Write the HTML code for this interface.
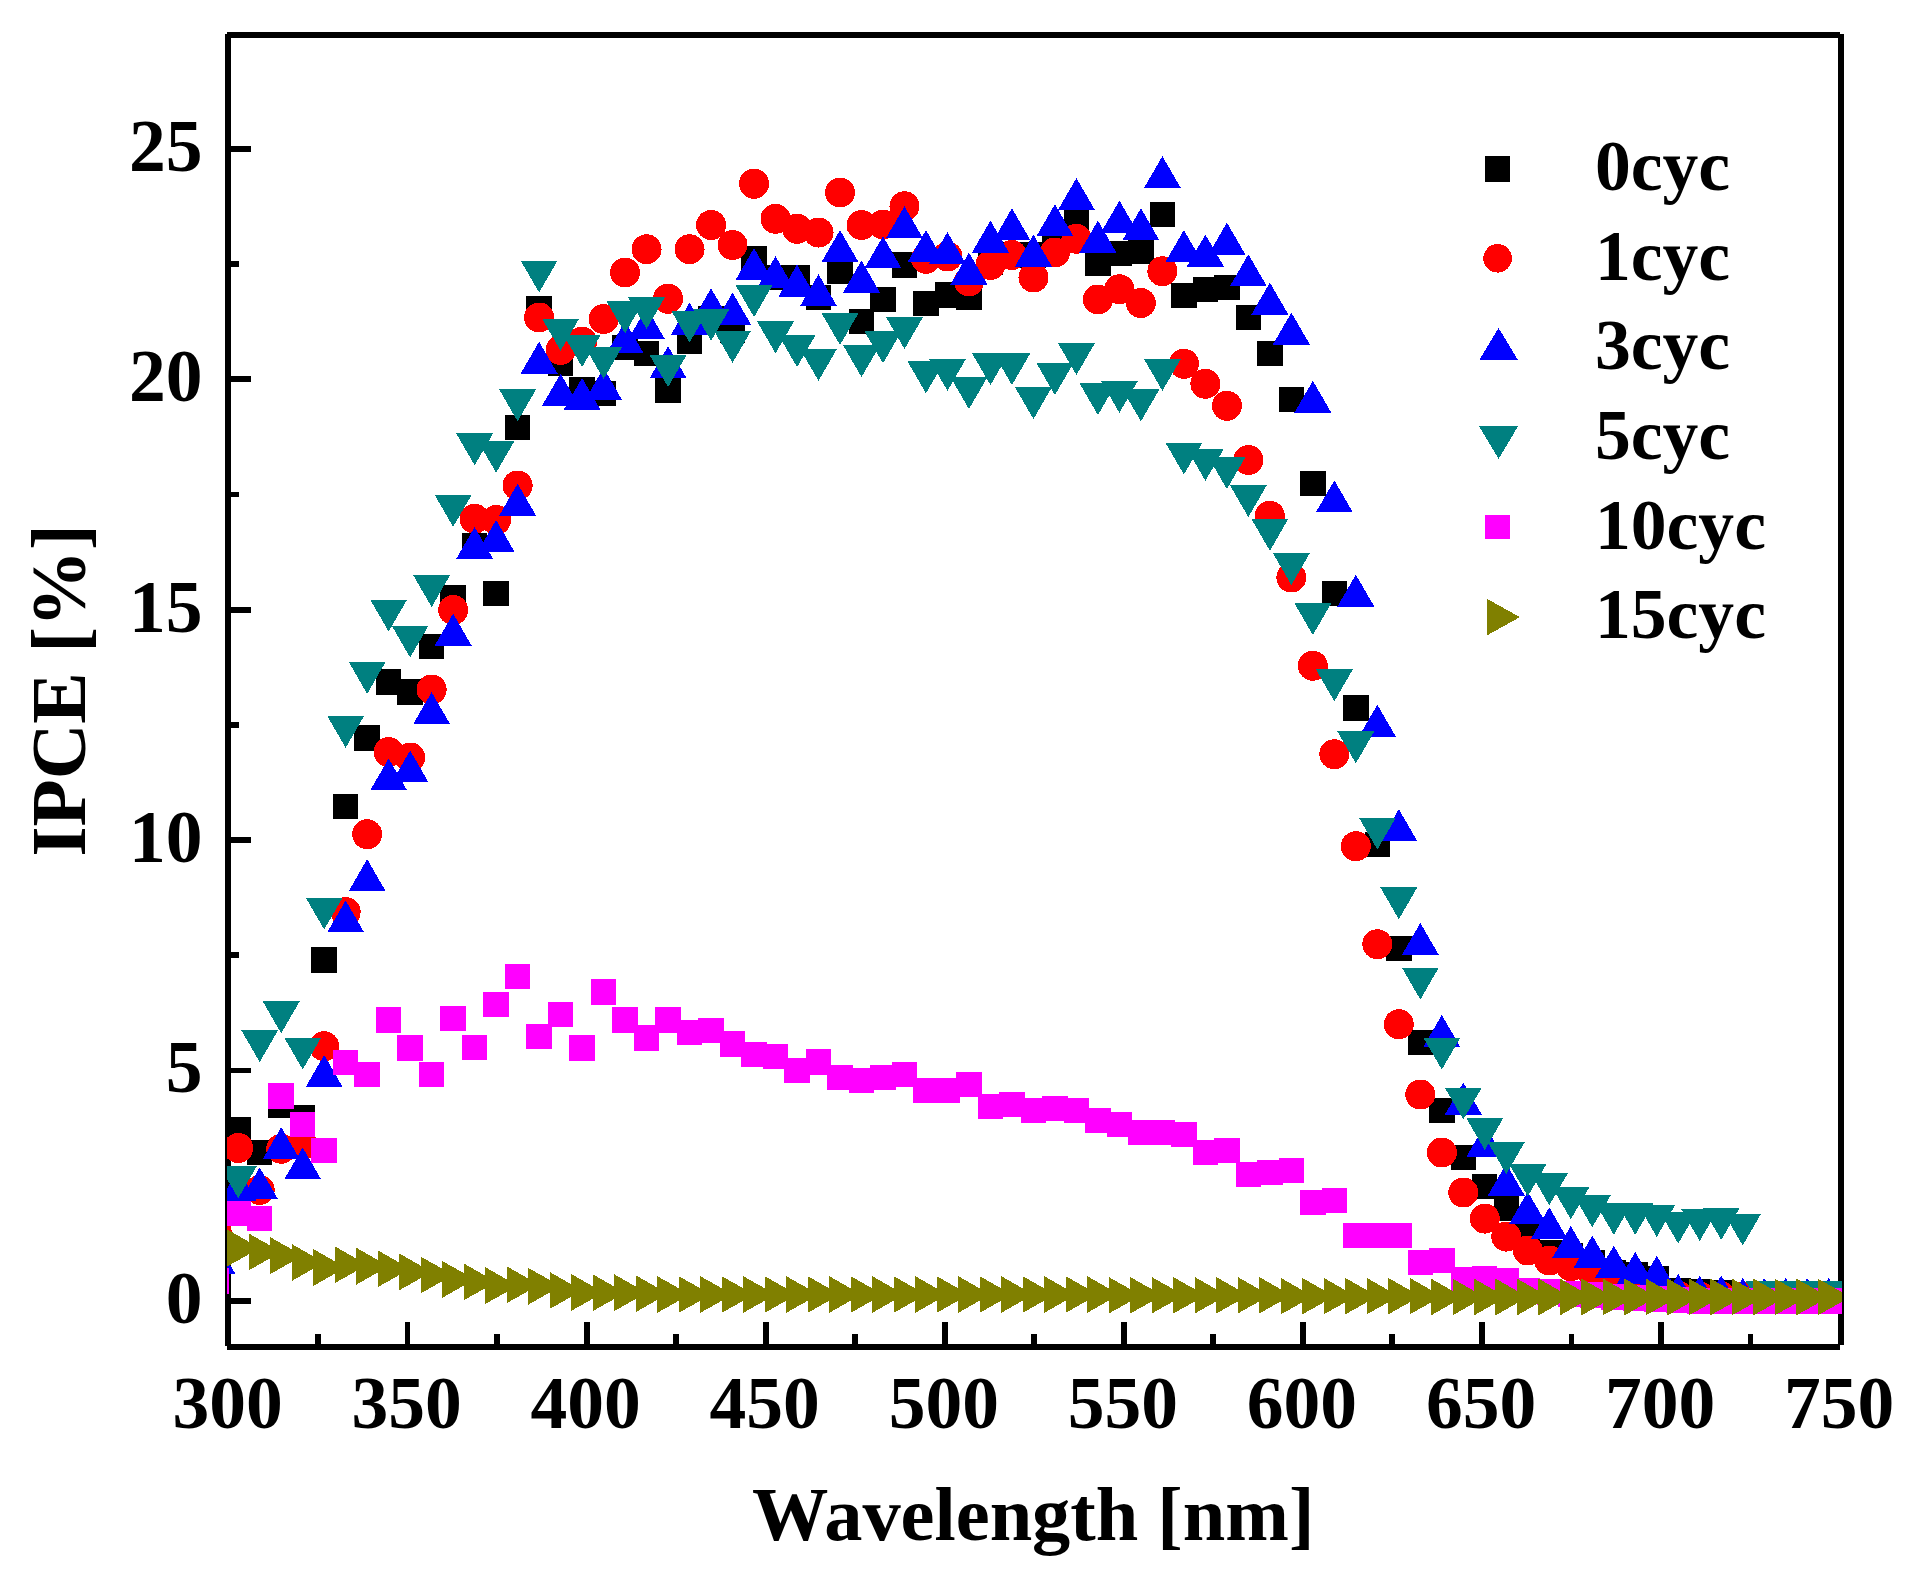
<!DOCTYPE html>
<html lang="en"><head><meta charset="utf-8"><title>IPCE vs Wavelength</title>
<style>
html,body{margin:0;padding:0;background:#fff;}
body{width:1914px;height:1569px;overflow:hidden;}
svg{display:block;}
text{font-family:"Liberation Serif",serif;font-weight:bold;fill:#000;}
.tick{font-size:73.5px;}
.title{font-size:76.4px;}
.leg{font-size:71.6px;}
.ytitle{font-size:77.2px;}
</style></head><body>
<svg width="1914" height="1569" viewBox="0 0 1914 1569">
<rect x="0" y="0" width="1914" height="1569" fill="#fff"/>
<defs><clipPath id="plotclip"><rect x="227" y="34" width="1615" height="1313.5"/></clipPath></defs>
<g fill="#000" shape-rendering="crispEdges">
<rect x="225" y="34.2" width="6" height="1311.4"/>
<rect x="1837.8" y="34.2" width="6.1" height="1311.2"/>
<rect x="227.1" y="32" width="1612.9" height="5.9"/>
<rect x="227" y="1343.6" width="1613" height="6"/>
<rect x="230" y="1297.95" width="21.2" height="5.9"/>
<rect x="230" y="1067.56" width="21.2" height="5.9"/>
<rect x="230" y="837.17" width="21.2" height="5.9"/>
<rect x="230" y="606.78" width="21.2" height="5.9"/>
<rect x="230" y="376.39" width="21.2" height="5.9"/>
<rect x="230" y="146" width="21.2" height="5.9"/>
<rect x="230" y="1182.76" width="9" height="5.9"/>
<rect x="230" y="952.37" width="9" height="5.9"/>
<rect x="230" y="721.98" width="9" height="5.9"/>
<rect x="230" y="491.59" width="9" height="5.9"/>
<rect x="230" y="261.19" width="9" height="5.9"/>
<rect x="404.53" y="1321.8" width="5.9" height="22.8"/>
<rect x="583.6" y="1321.8" width="5.9" height="22.8"/>
<rect x="762.67" y="1321.8" width="5.9" height="22.8"/>
<rect x="941.75" y="1321.8" width="5.9" height="22.8"/>
<rect x="1120.83" y="1321.8" width="5.9" height="22.8"/>
<rect x="1299.9" y="1321.8" width="5.9" height="22.8"/>
<rect x="1478.98" y="1321.8" width="5.9" height="22.8"/>
<rect x="1658.05" y="1321.8" width="5.9" height="22.8"/>
<rect x="314.99" y="1334" width="5.9" height="10.6"/>
<rect x="494.06" y="1334" width="5.9" height="10.6"/>
<rect x="673.14" y="1334" width="5.9" height="10.6"/>
<rect x="852.21" y="1334" width="5.9" height="10.6"/>
<rect x="1031.29" y="1334" width="5.9" height="10.6"/>
<rect x="1210.36" y="1334" width="5.9" height="10.6"/>
<rect x="1389.44" y="1334" width="5.9" height="10.6"/>
<rect x="1568.51" y="1334" width="5.9" height="10.6"/>
<rect x="1747.59" y="1334" width="5.9" height="10.6"/>
</g>
<g clip-path="url(#plotclip)">
<g fill="#000000" shape-rendering="crispEdges">
<rect x="225.5" y="1117.3" width="25.4" height="25.4"/>
<rect x="246.99" y="1139.55" width="25.4" height="25.4"/>
<rect x="268.49" y="1092.3" width="25.4" height="25.4"/>
<rect x="289.98" y="1104.8" width="25.4" height="25.4"/>
<rect x="311.47" y="947.3" width="25.4" height="25.4"/>
<rect x="332.96" y="793.55" width="25.4" height="25.4"/>
<rect x="354.46" y="725.3" width="25.4" height="25.4"/>
<rect x="375.95" y="669.3" width="25.4" height="25.4"/>
<rect x="397.44" y="679.3" width="25.4" height="25.4"/>
<rect x="418.94" y="633.55" width="25.4" height="25.4"/>
<rect x="440.43" y="584.8" width="25.4" height="25.4"/>
<rect x="461.92" y="532.8" width="25.4" height="25.4"/>
<rect x="483.42" y="581.05" width="25.4" height="25.4"/>
<rect x="504.91" y="414.8" width="25.4" height="25.4"/>
<rect x="526.4" y="296" width="25.4" height="25.4"/>
<rect x="547.89" y="351" width="25.4" height="25.4"/>
<rect x="569.39" y="376.8" width="25.4" height="25.4"/>
<rect x="590.88" y="381.05" width="25.4" height="25.4"/>
<rect x="612.37" y="334.8" width="25.4" height="25.4"/>
<rect x="633.87" y="341.05" width="25.4" height="25.4"/>
<rect x="655.36" y="377.3" width="25.4" height="25.4"/>
<rect x="676.85" y="328.55" width="25.4" height="25.4"/>
<rect x="698.35" y="306.1" width="25.4" height="25.4"/>
<rect x="719.84" y="317.8" width="25.4" height="25.4"/>
<rect x="741.33" y="246.05" width="25.4" height="25.4"/>
<rect x="762.82" y="264.8" width="25.4" height="25.4"/>
<rect x="784.32" y="264.8" width="25.4" height="25.4"/>
<rect x="805.81" y="284.8" width="25.4" height="25.4"/>
<rect x="827.3" y="258.55" width="25.4" height="25.4"/>
<rect x="848.8" y="308.55" width="25.4" height="25.4"/>
<rect x="870.29" y="286.8" width="25.4" height="25.4"/>
<rect x="891.78" y="252.3" width="25.4" height="25.4"/>
<rect x="913.28" y="291.05" width="25.4" height="25.4"/>
<rect x="934.77" y="282.3" width="25.4" height="25.4"/>
<rect x="956.26" y="284.8" width="25.4" height="25.4"/>
<rect x="977.75" y="249.8" width="25.4" height="25.4"/>
<rect x="999.25" y="242.3" width="25.4" height="25.4"/>
<rect x="1020.74" y="242.3" width="25.4" height="25.4"/>
<rect x="1042.23" y="236.05" width="25.4" height="25.4"/>
<rect x="1063.73" y="209.8" width="25.4" height="25.4"/>
<rect x="1085.22" y="251.05" width="25.4" height="25.4"/>
<rect x="1106.71" y="241.05" width="25.4" height="25.4"/>
<rect x="1128.21" y="238.55" width="25.4" height="25.4"/>
<rect x="1149.7" y="201.6" width="25.4" height="25.4"/>
<rect x="1171.19" y="282.8" width="25.4" height="25.4"/>
<rect x="1192.68" y="277.05" width="25.4" height="25.4"/>
<rect x="1214.18" y="274.8" width="25.4" height="25.4"/>
<rect x="1235.67" y="304.8" width="25.4" height="25.4"/>
<rect x="1257.16" y="340.8" width="25.4" height="25.4"/>
<rect x="1278.66" y="386.8" width="25.4" height="25.4"/>
<rect x="1300.15" y="471.05" width="25.4" height="25.4"/>
<rect x="1321.64" y="581.05" width="25.4" height="25.4"/>
<rect x="1343.14" y="695.4" width="25.4" height="25.4"/>
<rect x="1364.63" y="831.8" width="25.4" height="25.4"/>
<rect x="1386.12" y="935.8" width="25.4" height="25.4"/>
<rect x="1407.62" y="1029.8" width="25.4" height="25.4"/>
<rect x="1429.11" y="1097.8" width="25.4" height="25.4"/>
<rect x="1450.6" y="1144.8" width="25.4" height="25.4"/>
<rect x="1472.09" y="1173.8" width="25.4" height="25.4"/>
<rect x="1493.59" y="1195.9" width="25.4" height="25.4"/>
<rect x="1515.08" y="1223.5" width="25.4" height="25.4"/>
<rect x="1536.57" y="1239.8" width="25.4" height="25.4"/>
<rect x="1558.07" y="1243.3" width="25.4" height="25.4"/>
<rect x="1579.56" y="1250.1" width="25.4" height="25.4"/>
<rect x="1601.05" y="1260.2" width="25.4" height="25.4"/>
<rect x="1622.54" y="1261.8" width="25.4" height="25.4"/>
<rect x="1644.04" y="1265.5" width="25.4" height="25.4"/>
<rect x="1665.53" y="1277.7" width="25.4" height="25.4"/>
<rect x="1687.02" y="1279.3" width="25.4" height="25.4"/>
<rect x="1708.52" y="1280.3" width="25.4" height="25.4"/>
<rect x="1730.01" y="1282.3" width="25.4" height="25.4"/>
<rect x="1751.5" y="1282.3" width="25.4" height="25.4"/>
<rect x="1773" y="1282.3" width="25.4" height="25.4"/>
<rect x="1794.49" y="1282.3" width="25.4" height="25.4"/>
<rect x="1815.98" y="1282.3" width="25.4" height="25.4"/>
<rect x="1837.47" y="1282.3" width="25.4" height="25.4"/>
</g>
<g fill="#ff0000" shape-rendering="crispEdges">
<circle cx="216.71" cy="1232" r="15"/>
<circle cx="238.2" cy="1148" r="15"/>
<circle cx="259.69" cy="1190" r="15"/>
<circle cx="281.19" cy="1148.75" r="15"/>
<circle cx="302.68" cy="1145" r="15"/>
<circle cx="324.17" cy="1046.25" r="15"/>
<circle cx="345.66" cy="912" r="15"/>
<circle cx="367.16" cy="834.25" r="15"/>
<circle cx="388.65" cy="752" r="15"/>
<circle cx="410.14" cy="757.5" r="15"/>
<circle cx="431.64" cy="689.5" r="15"/>
<circle cx="453.13" cy="610" r="15"/>
<circle cx="474.62" cy="518.75" r="15"/>
<circle cx="496.12" cy="520" r="15"/>
<circle cx="517.61" cy="485.5" r="15"/>
<circle cx="539.1" cy="317.5" r="15"/>
<circle cx="560.6" cy="350" r="15"/>
<circle cx="582.09" cy="341.75" r="15"/>
<circle cx="603.58" cy="319" r="15"/>
<circle cx="625.07" cy="272.5" r="15"/>
<circle cx="646.57" cy="249.25" r="15"/>
<circle cx="668.06" cy="298.75" r="15"/>
<circle cx="689.55" cy="249.25" r="15"/>
<circle cx="711.05" cy="225" r="15"/>
<circle cx="732.54" cy="245" r="15"/>
<circle cx="754.03" cy="183.75" r="15"/>
<circle cx="775.52" cy="218.75" r="15"/>
<circle cx="797.02" cy="228.75" r="15"/>
<circle cx="818.51" cy="232.5" r="15"/>
<circle cx="840" cy="192.5" r="15"/>
<circle cx="861.5" cy="225" r="15"/>
<circle cx="882.99" cy="224.5" r="15"/>
<circle cx="904.48" cy="206.25" r="15"/>
<circle cx="925.98" cy="258.75" r="15"/>
<circle cx="947.47" cy="256.5" r="15"/>
<circle cx="968.96" cy="281.25" r="15"/>
<circle cx="990.45" cy="265" r="15"/>
<circle cx="1011.95" cy="255" r="15"/>
<circle cx="1033.44" cy="277.5" r="15"/>
<circle cx="1054.93" cy="252.5" r="15"/>
<circle cx="1076.43" cy="238.75" r="15"/>
<circle cx="1097.92" cy="299.5" r="15"/>
<circle cx="1119.41" cy="289.25" r="15"/>
<circle cx="1140.91" cy="303" r="15"/>
<circle cx="1162.4" cy="271.25" r="15"/>
<circle cx="1183.89" cy="363.75" r="15"/>
<circle cx="1205.38" cy="383.75" r="15"/>
<circle cx="1226.88" cy="405.75" r="15"/>
<circle cx="1248.37" cy="460" r="15"/>
<circle cx="1269.86" cy="515.75" r="15"/>
<circle cx="1291.36" cy="577.5" r="15"/>
<circle cx="1312.85" cy="665.75" r="15"/>
<circle cx="1334.34" cy="754.25" r="15"/>
<circle cx="1355.84" cy="846.25" r="15"/>
<circle cx="1377.33" cy="944.25" r="15"/>
<circle cx="1398.82" cy="1024.25" r="15"/>
<circle cx="1420.32" cy="1094.5" r="15"/>
<circle cx="1441.81" cy="1152.5" r="15"/>
<circle cx="1463.3" cy="1192.5" r="15"/>
<circle cx="1484.79" cy="1218.6" r="15"/>
<circle cx="1506.29" cy="1236.6" r="15"/>
<circle cx="1527.78" cy="1250.5" r="15"/>
<circle cx="1549.27" cy="1260.5" r="15"/>
<circle cx="1570.77" cy="1266.2" r="15"/>
<circle cx="1592.26" cy="1272" r="15"/>
<circle cx="1613.75" cy="1278" r="15"/>
<circle cx="1635.24" cy="1284" r="15"/>
<circle cx="1656.74" cy="1288" r="15"/>
<circle cx="1678.23" cy="1296" r="15"/>
<circle cx="1699.72" cy="1296.5" r="15"/>
<circle cx="1721.22" cy="1296.5" r="15"/>
<circle cx="1742.71" cy="1296.5" r="15"/>
<circle cx="1764.2" cy="1296.5" r="15"/>
<circle cx="1785.7" cy="1296.5" r="15"/>
<circle cx="1807.19" cy="1296.5" r="15"/>
<circle cx="1828.68" cy="1296.5" r="15"/>
<circle cx="1850.17" cy="1296.5" r="15"/>
</g>
<g fill="#0000ff" shape-rendering="crispEdges">
<path d="M198.21 1273.67L235.21 1273.67L216.71 1241.67Z"/>
<path d="M219.7 1201.17L256.7 1201.17L238.2 1169.17Z"/>
<path d="M241.19 1199.47L278.19 1199.47L259.69 1167.47Z"/>
<path d="M262.69 1159.17L299.69 1159.17L281.19 1127.17Z"/>
<path d="M284.18 1179.47L321.18 1179.47L302.68 1147.47Z"/>
<path d="M305.67 1086.97L342.67 1086.97L324.17 1054.97Z"/>
<path d="M327.16 932.47L364.16 932.47L345.66 900.47Z"/>
<path d="M348.66 891.17L385.66 891.17L367.16 859.17Z"/>
<path d="M370.15 790.47L407.15 790.47L388.65 758.47Z"/>
<path d="M391.64 782.47L428.64 782.47L410.14 750.47Z"/>
<path d="M413.14 724.17L450.14 724.17L431.64 692.17Z"/>
<path d="M434.63 645.67L471.63 645.67L453.13 613.67Z"/>
<path d="M456.12 558.97L493.12 558.97L474.62 526.97Z"/>
<path d="M477.62 551.97L514.62 551.97L496.12 519.97Z"/>
<path d="M499.11 515.67L536.11 515.67L517.61 483.67Z"/>
<path d="M520.6 373.67L557.6 373.67L539.1 341.67Z"/>
<path d="M542.1 405.67L579.1 405.67L560.6 373.67Z"/>
<path d="M563.59 409.97L600.59 409.97L582.09 377.97Z"/>
<path d="M585.08 399.97L622.08 399.97L603.58 367.97Z"/>
<path d="M606.57 353.17L643.57 353.17L625.07 321.17Z"/>
<path d="M628.07 339.47L665.07 339.47L646.57 307.47Z"/>
<path d="M649.56 378.17L686.56 378.17L668.06 346.17Z"/>
<path d="M671.05 334.67L708.05 334.67L689.55 302.67Z"/>
<path d="M692.55 320.27L729.55 320.27L711.05 288.27Z"/>
<path d="M714.04 324.57L751.04 324.57L732.54 292.57Z"/>
<path d="M735.53 280.07L772.53 280.07L754.03 248.07Z"/>
<path d="M757.02 288.27L794.02 288.27L775.52 256.27Z"/>
<path d="M778.52 296.57L815.52 296.57L797.02 264.57Z"/>
<path d="M800.01 306.27L837.01 306.27L818.51 274.27Z"/>
<path d="M821.5 262.07L858.5 262.07L840 230.07Z"/>
<path d="M843 292.57L880 292.57L861.5 260.57Z"/>
<path d="M864.49 268.27L901.49 268.27L882.99 236.27Z"/>
<path d="M885.98 238.27L922.98 238.27L904.48 206.27Z"/>
<path d="M907.48 262.07L944.48 262.07L925.98 230.07Z"/>
<path d="M928.97 264.07L965.97 264.07L947.47 232.07Z"/>
<path d="M950.46 284.57L987.46 284.57L968.96 252.57Z"/>
<path d="M971.95 252.57L1008.95 252.57L990.45 220.57Z"/>
<path d="M993.45 240.27L1030.45 240.27L1011.95 208.27Z"/>
<path d="M1014.94 266.57L1051.94 266.57L1033.44 234.57Z"/>
<path d="M1036.43 236.27L1073.43 236.27L1054.93 204.27Z"/>
<path d="M1057.93 210.07L1094.93 210.07L1076.43 178.07Z"/>
<path d="M1079.42 252.57L1116.42 252.57L1097.92 220.57Z"/>
<path d="M1100.91 232.57L1137.91 232.57L1119.41 200.57Z"/>
<path d="M1122.41 240.27L1159.41 240.27L1140.91 208.27Z"/>
<path d="M1143.9 188.17L1180.9 188.17L1162.4 156.17Z"/>
<path d="M1165.39 262.07L1202.39 262.07L1183.89 230.07Z"/>
<path d="M1186.88 266.57L1223.88 266.57L1205.38 234.57Z"/>
<path d="M1208.38 254.57L1245.38 254.57L1226.88 222.57Z"/>
<path d="M1229.87 286.27L1266.87 286.27L1248.37 254.27Z"/>
<path d="M1251.36 314.57L1288.36 314.57L1269.86 282.57Z"/>
<path d="M1272.86 344.57L1309.86 344.57L1291.36 312.57Z"/>
<path d="M1294.35 412.77L1331.35 412.77L1312.85 380.77Z"/>
<path d="M1315.84 512.37L1352.84 512.37L1334.34 480.37Z"/>
<path d="M1337.34 606.67L1374.34 606.67L1355.84 574.67Z"/>
<path d="M1358.83 736.67L1395.83 736.67L1377.33 704.67Z"/>
<path d="M1380.32 841.17L1417.32 841.17L1398.82 809.17Z"/>
<path d="M1401.82 954.92L1438.82 954.92L1420.32 922.92Z"/>
<path d="M1423.31 1046.92L1460.31 1046.92L1441.81 1014.92Z"/>
<path d="M1444.8 1114.67L1481.8 1114.67L1463.3 1082.67Z"/>
<path d="M1466.29 1156.92L1503.29 1156.92L1484.79 1124.92Z"/>
<path d="M1487.79 1195.67L1524.79 1195.67L1506.29 1163.67Z"/>
<path d="M1509.28 1223.67L1546.28 1223.67L1527.78 1191.67Z"/>
<path d="M1530.77 1239.37L1567.77 1239.37L1549.27 1207.37Z"/>
<path d="M1552.27 1257.87L1589.27 1257.87L1570.77 1225.87Z"/>
<path d="M1573.76 1267.57L1610.76 1267.57L1592.26 1235.57Z"/>
<path d="M1595.25 1277.67L1632.25 1277.67L1613.75 1245.67Z"/>
<path d="M1616.74 1283.97L1653.74 1283.97L1635.24 1251.97Z"/>
<path d="M1638.24 1287.67L1675.24 1287.67L1656.74 1255.67Z"/>
<path d="M1659.73 1305.87L1696.73 1305.87L1678.23 1273.87Z"/>
<path d="M1681.22 1307.47L1718.22 1307.47L1699.72 1275.47Z"/>
<path d="M1702.72 1307.47L1739.72 1307.47L1721.22 1275.47Z"/>
<path d="M1724.21 1309.97L1761.21 1309.97L1742.71 1277.97Z"/>
<path d="M1745.7 1309.97L1782.7 1309.97L1764.2 1277.97Z"/>
<path d="M1767.2 1309.97L1804.2 1309.97L1785.7 1277.97Z"/>
<path d="M1788.69 1309.97L1825.69 1309.97L1807.19 1277.97Z"/>
<path d="M1810.18 1309.97L1847.18 1309.97L1828.68 1277.97Z"/>
<path d="M1831.67 1309.97L1868.67 1309.97L1850.17 1277.97Z"/>
</g>
<g fill="#008080" shape-rendering="crispEdges">
<path d="M219.7 1166.33L256.7 1166.33L238.2 1198.33Z"/>
<path d="M241.19 1030.03L278.19 1030.03L259.69 1062.03Z"/>
<path d="M262.69 1001.33L299.69 1001.33L281.19 1033.33Z"/>
<path d="M284.18 1037.53L321.18 1037.53L302.68 1069.53Z"/>
<path d="M305.67 897.53L342.67 897.53L324.17 929.53Z"/>
<path d="M327.16 715.83L364.16 715.83L345.66 747.83Z"/>
<path d="M348.66 661.83L385.66 661.83L367.16 693.83Z"/>
<path d="M370.15 599.53L407.15 599.53L388.65 631.53Z"/>
<path d="M391.64 625.53L428.64 625.53L410.14 657.53Z"/>
<path d="M413.14 575.03L450.14 575.03L431.64 607.03Z"/>
<path d="M434.63 494.83L471.63 494.83L453.13 526.83Z"/>
<path d="M456.12 433.33L493.12 433.33L474.62 465.33Z"/>
<path d="M477.62 440.73L514.62 440.73L496.12 472.73Z"/>
<path d="M499.11 389.33L536.11 389.33L517.61 421.33Z"/>
<path d="M520.6 260.53L557.6 260.53L539.1 292.53Z"/>
<path d="M542.1 318.73L579.1 318.73L560.6 350.73Z"/>
<path d="M563.59 335.03L600.59 335.03L582.09 367.03Z"/>
<path d="M585.08 347.03L622.08 347.03L603.58 379.03Z"/>
<path d="M606.57 301.33L643.57 301.33L625.07 333.33Z"/>
<path d="M628.07 297.03L665.07 297.03L646.57 329.03Z"/>
<path d="M649.56 355.03L686.56 355.03L668.06 387.03Z"/>
<path d="M671.05 310.53L708.05 310.53L689.55 342.53Z"/>
<path d="M692.55 308.83L729.55 308.83L711.05 340.83Z"/>
<path d="M714.04 330.83L751.04 330.83L732.54 362.83Z"/>
<path d="M735.53 285.08L772.53 285.08L754.03 317.08Z"/>
<path d="M757.02 321.33L794.02 321.33L775.52 353.33Z"/>
<path d="M778.52 335.08L815.52 335.08L797.02 367.08Z"/>
<path d="M800.01 348.83L837.01 348.83L818.51 380.83Z"/>
<path d="M821.5 313.08L858.5 313.08L840 345.08Z"/>
<path d="M843 345.08L880 345.08L861.5 377.08Z"/>
<path d="M864.49 331.33L901.49 331.33L882.99 363.33Z"/>
<path d="M885.98 317.08L922.98 317.08L904.48 349.08Z"/>
<path d="M907.48 361.33L944.48 361.33L925.98 393.33Z"/>
<path d="M928.97 358.83L965.97 358.83L947.47 390.83Z"/>
<path d="M950.46 377.08L987.46 377.08L968.96 409.08Z"/>
<path d="M971.95 353.08L1008.95 353.08L990.45 385.08Z"/>
<path d="M993.45 353.08L1030.45 353.08L1011.95 385.08Z"/>
<path d="M1014.94 387.08L1051.94 387.08L1033.44 419.08Z"/>
<path d="M1036.43 363.08L1073.43 363.08L1054.93 395.08Z"/>
<path d="M1057.93 343.08L1094.93 343.08L1076.43 375.08Z"/>
<path d="M1079.42 383.08L1116.42 383.08L1097.92 415.08Z"/>
<path d="M1100.91 380.83L1137.91 380.83L1119.41 412.83Z"/>
<path d="M1122.41 389.33L1159.41 389.33L1140.91 421.33Z"/>
<path d="M1143.9 358.83L1180.9 358.83L1162.4 390.83Z"/>
<path d="M1165.39 442.58L1202.39 442.58L1183.89 474.58Z"/>
<path d="M1186.88 448.83L1223.88 448.83L1205.38 480.83Z"/>
<path d="M1208.38 457.08L1245.38 457.08L1226.88 489.08Z"/>
<path d="M1229.87 485.08L1266.87 485.08L1248.37 517.08Z"/>
<path d="M1251.36 518.83L1288.36 518.83L1269.86 550.83Z"/>
<path d="M1272.86 553.08L1309.86 553.08L1291.36 585.08Z"/>
<path d="M1294.35 603.08L1331.35 603.08L1312.85 635.08Z"/>
<path d="M1315.84 669.33L1352.84 669.33L1334.34 701.33Z"/>
<path d="M1337.34 731.33L1374.34 731.33L1355.84 763.33Z"/>
<path d="M1358.83 817.58L1395.83 817.58L1377.33 849.58Z"/>
<path d="M1380.32 887.33L1417.32 887.33L1398.82 919.33Z"/>
<path d="M1401.82 967.58L1438.82 967.58L1420.32 999.58Z"/>
<path d="M1423.31 1037.58L1460.31 1037.58L1441.81 1069.58Z"/>
<path d="M1444.8 1087.58L1481.8 1087.58L1463.3 1119.58Z"/>
<path d="M1466.29 1118.08L1503.29 1118.08L1484.79 1150.08Z"/>
<path d="M1487.79 1142.08L1524.79 1142.08L1506.29 1174.08Z"/>
<path d="M1509.28 1164.33L1546.28 1164.33L1527.78 1196.33Z"/>
<path d="M1530.77 1173.33L1567.77 1173.33L1549.27 1205.33Z"/>
<path d="M1552.27 1187.33L1589.27 1187.33L1570.77 1219.33Z"/>
<path d="M1573.76 1195.33L1610.76 1195.33L1592.26 1227.33Z"/>
<path d="M1595.25 1202.83L1632.25 1202.83L1613.75 1234.83Z"/>
<path d="M1616.74 1202.83L1653.74 1202.83L1635.24 1234.83Z"/>
<path d="M1638.24 1204.93L1675.24 1204.93L1656.74 1236.93Z"/>
<path d="M1659.73 1211.63L1696.73 1211.63L1678.23 1243.63Z"/>
<path d="M1681.22 1209.03L1718.22 1209.03L1699.72 1241.03Z"/>
<path d="M1702.72 1207.93L1739.72 1207.93L1721.22 1239.93Z"/>
<path d="M1724.21 1213.53L1761.21 1213.53L1742.71 1245.53Z"/>
<path d="M1745.7 1281.33L1782.7 1281.33L1764.2 1313.33Z"/>
<path d="M1767.2 1281.33L1804.2 1281.33L1785.7 1313.33Z"/>
<path d="M1788.69 1281.33L1825.69 1281.33L1807.19 1313.33Z"/>
<path d="M1810.18 1281.33L1847.18 1281.33L1828.68 1313.33Z"/>
<path d="M1831.67 1281.33L1868.67 1281.33L1850.17 1313.33Z"/>
</g>
<g fill="#ff00ff" shape-rendering="crispEdges">
<rect x="204.01" y="1268.3" width="25.4" height="25.4"/>
<rect x="225.5" y="1200.8" width="25.4" height="25.4"/>
<rect x="246.99" y="1205.8" width="25.4" height="25.4"/>
<rect x="268.49" y="1083.3" width="25.4" height="25.4"/>
<rect x="289.98" y="1111.8" width="25.4" height="25.4"/>
<rect x="311.47" y="1137.55" width="25.4" height="25.4"/>
<rect x="332.96" y="1049.55" width="25.4" height="25.4"/>
<rect x="354.46" y="1061.55" width="25.4" height="25.4"/>
<rect x="375.95" y="1007.3" width="25.4" height="25.4"/>
<rect x="397.44" y="1035.3" width="25.4" height="25.4"/>
<rect x="418.94" y="1061.55" width="25.4" height="25.4"/>
<rect x="440.43" y="1005.55" width="25.4" height="25.4"/>
<rect x="461.92" y="1034.55" width="25.4" height="25.4"/>
<rect x="483.42" y="991.55" width="25.4" height="25.4"/>
<rect x="504.91" y="963.55" width="25.4" height="25.4"/>
<rect x="526.4" y="1023.55" width="25.4" height="25.4"/>
<rect x="547.89" y="1001.55" width="25.4" height="25.4"/>
<rect x="569.39" y="1035.3" width="25.4" height="25.4"/>
<rect x="590.88" y="979.3" width="25.4" height="25.4"/>
<rect x="612.37" y="1007.3" width="25.4" height="25.4"/>
<rect x="633.87" y="1025.3" width="25.4" height="25.4"/>
<rect x="655.36" y="1007.3" width="25.4" height="25.4"/>
<rect x="676.85" y="1019.7" width="25.4" height="25.4"/>
<rect x="698.35" y="1017.55" width="25.4" height="25.4"/>
<rect x="719.84" y="1031.3" width="25.4" height="25.4"/>
<rect x="741.33" y="1041.55" width="25.4" height="25.4"/>
<rect x="762.82" y="1043.55" width="25.4" height="25.4"/>
<rect x="784.32" y="1057.8" width="25.4" height="25.4"/>
<rect x="805.81" y="1049.3" width="25.4" height="25.4"/>
<rect x="827.3" y="1064.55" width="25.4" height="25.4"/>
<rect x="848.8" y="1067.55" width="25.4" height="25.4"/>
<rect x="870.29" y="1064.55" width="25.4" height="25.4"/>
<rect x="891.78" y="1061.8" width="25.4" height="25.4"/>
<rect x="913.28" y="1077.55" width="25.4" height="25.4"/>
<rect x="934.77" y="1077.55" width="25.4" height="25.4"/>
<rect x="956.26" y="1071.8" width="25.4" height="25.4"/>
<rect x="977.75" y="1093.8" width="25.4" height="25.4"/>
<rect x="999.25" y="1091.8" width="25.4" height="25.4"/>
<rect x="1020.74" y="1097.55" width="25.4" height="25.4"/>
<rect x="1042.23" y="1095.55" width="25.4" height="25.4"/>
<rect x="1063.73" y="1097.55" width="25.4" height="25.4"/>
<rect x="1085.22" y="1107.55" width="25.4" height="25.4"/>
<rect x="1106.71" y="1111.8" width="25.4" height="25.4"/>
<rect x="1128.21" y="1119.8" width="25.4" height="25.4"/>
<rect x="1149.7" y="1119.6" width="25.4" height="25.4"/>
<rect x="1171.19" y="1121.8" width="25.4" height="25.4"/>
<rect x="1192.68" y="1140.05" width="25.4" height="25.4"/>
<rect x="1214.18" y="1137.55" width="25.4" height="25.4"/>
<rect x="1235.67" y="1161.8" width="25.4" height="25.4"/>
<rect x="1257.16" y="1160.05" width="25.4" height="25.4"/>
<rect x="1278.66" y="1157.55" width="25.4" height="25.4"/>
<rect x="1300.15" y="1190.05" width="25.4" height="25.4"/>
<rect x="1321.64" y="1187.8" width="25.4" height="25.4"/>
<rect x="1343.14" y="1222.9" width="25.4" height="25.4"/>
<rect x="1364.63" y="1222.9" width="25.4" height="25.4"/>
<rect x="1386.12" y="1222.9" width="25.4" height="25.4"/>
<rect x="1407.62" y="1249.9" width="25.4" height="25.4"/>
<rect x="1429.11" y="1247.5" width="25.4" height="25.4"/>
<rect x="1450.6" y="1267.3" width="25.4" height="25.4"/>
<rect x="1472.09" y="1265.5" width="25.4" height="25.4"/>
<rect x="1493.59" y="1267.7" width="25.4" height="25.4"/>
<rect x="1515.08" y="1277.7" width="25.4" height="25.4"/>
<rect x="1536.57" y="1279.3" width="25.4" height="25.4"/>
<rect x="1558.07" y="1281.3" width="25.4" height="25.4"/>
<rect x="1579.56" y="1282.3" width="25.4" height="25.4"/>
<rect x="1601.05" y="1284.3" width="25.4" height="25.4"/>
<rect x="1622.54" y="1285.3" width="25.4" height="25.4"/>
<rect x="1644.04" y="1286.3" width="25.4" height="25.4"/>
<rect x="1665.53" y="1287.3" width="25.4" height="25.4"/>
<rect x="1687.02" y="1288.3" width="25.4" height="25.4"/>
<rect x="1708.52" y="1288.3" width="25.4" height="25.4"/>
<rect x="1730.01" y="1288.3" width="25.4" height="25.4"/>
<rect x="1751.5" y="1288.3" width="25.4" height="25.4"/>
<rect x="1773" y="1288.3" width="25.4" height="25.4"/>
<rect x="1794.49" y="1288.3" width="25.4" height="25.4"/>
<rect x="1815.98" y="1288.3" width="25.4" height="25.4"/>
<rect x="1837.47" y="1288.3" width="25.4" height="25.4"/>
</g>
<g fill="#808000" shape-rendering="crispEdges">
<path d="M205.91 1227.6L205.91 1264.4L238.31 1246Z"/>
<path d="M227.4 1229.6L227.4 1266.4L259.8 1248Z"/>
<path d="M248.89 1233.5L248.89 1270.3L281.29 1251.9Z"/>
<path d="M270.39 1237.2L270.39 1274L302.79 1255.6Z"/>
<path d="M291.88 1244.1L291.88 1280.9L324.28 1262.5Z"/>
<path d="M313.37 1249.1L313.37 1285.9L345.77 1267.5Z"/>
<path d="M334.86 1246.35L334.86 1283.15L367.26 1264.75Z"/>
<path d="M356.36 1247.85L356.36 1284.65L388.76 1266.25Z"/>
<path d="M377.85 1250.35L377.85 1287.15L410.25 1268.75Z"/>
<path d="M399.34 1253.5L399.34 1290.3L431.74 1271.9Z"/>
<path d="M420.84 1256.6L420.84 1293.4L453.24 1275Z"/>
<path d="M442.33 1261L442.33 1297.8L474.73 1279.4Z"/>
<path d="M463.82 1263.5L463.82 1300.3L496.22 1281.9Z"/>
<path d="M485.32 1267.2L485.32 1304L517.72 1285.6Z"/>
<path d="M506.81 1266.35L506.81 1303.15L539.21 1284.75Z"/>
<path d="M528.3 1267.85L528.3 1304.65L560.7 1286.25Z"/>
<path d="M549.8 1272.1L549.8 1308.9L582.2 1290.5Z"/>
<path d="M571.29 1274.1L571.29 1310.9L603.69 1292.5Z"/>
<path d="M592.78 1274.35L592.78 1311.15L625.18 1292.75Z"/>
<path d="M614.27 1274.35L614.27 1311.15L646.67 1292.75Z"/>
<path d="M635.77 1275.35L635.77 1312.15L668.17 1293.75Z"/>
<path d="M657.26 1276.1L657.26 1312.9L689.66 1294.5Z"/>
<path d="M678.75 1276.1L678.75 1312.9L711.15 1294.5Z"/>
<path d="M700.25 1276.1L700.25 1312.9L732.65 1294.5Z"/>
<path d="M721.74 1276.1L721.74 1312.9L754.14 1294.5Z"/>
<path d="M743.23 1276.1L743.23 1312.9L775.63 1294.5Z"/>
<path d="M764.72 1276.1L764.72 1312.9L797.12 1294.5Z"/>
<path d="M786.22 1276.1L786.22 1312.9L818.62 1294.5Z"/>
<path d="M807.71 1276.1L807.71 1312.9L840.11 1294.5Z"/>
<path d="M829.2 1276.1L829.2 1312.9L861.6 1294.5Z"/>
<path d="M850.7 1276.1L850.7 1312.9L883.1 1294.5Z"/>
<path d="M872.19 1276.1L872.19 1312.9L904.59 1294.5Z"/>
<path d="M893.68 1276.1L893.68 1312.9L926.08 1294.5Z"/>
<path d="M915.18 1276.1L915.18 1312.9L947.58 1294.5Z"/>
<path d="M936.67 1276.1L936.67 1312.9L969.07 1294.5Z"/>
<path d="M958.16 1276.1L958.16 1312.9L990.56 1294.5Z"/>
<path d="M979.65 1276.1L979.65 1312.9L1012.05 1294.5Z"/>
<path d="M1001.15 1276.1L1001.15 1312.9L1033.55 1294.5Z"/>
<path d="M1022.64 1276.1L1022.64 1312.9L1055.04 1294.5Z"/>
<path d="M1044.13 1276.1L1044.13 1312.9L1076.53 1294.5Z"/>
<path d="M1065.63 1276.1L1065.63 1312.9L1098.03 1294.5Z"/>
<path d="M1087.12 1276.1L1087.12 1312.9L1119.52 1294.5Z"/>
<path d="M1108.61 1276.9L1108.61 1313.7L1141.01 1295.3Z"/>
<path d="M1130.11 1276.9L1130.11 1313.7L1162.51 1295.3Z"/>
<path d="M1151.6 1276.9L1151.6 1313.7L1184 1295.3Z"/>
<path d="M1173.09 1276.9L1173.09 1313.7L1205.49 1295.3Z"/>
<path d="M1194.59 1276.9L1194.59 1313.7L1226.98 1295.3Z"/>
<path d="M1216.08 1276.9L1216.08 1313.7L1248.48 1295.3Z"/>
<path d="M1237.57 1276.9L1237.57 1313.7L1269.97 1295.3Z"/>
<path d="M1259.06 1276.9L1259.06 1313.7L1291.46 1295.3Z"/>
<path d="M1280.56 1277.8L1280.56 1314.6L1312.96 1296.2Z"/>
<path d="M1302.05 1277.8L1302.05 1314.6L1334.45 1296.2Z"/>
<path d="M1323.54 1277.8L1323.54 1314.6L1355.94 1296.2Z"/>
<path d="M1345.04 1277.8L1345.04 1314.6L1377.44 1296.2Z"/>
<path d="M1366.53 1277.8L1366.53 1314.6L1398.93 1296.2Z"/>
<path d="M1388.02 1277.8L1388.02 1314.6L1420.42 1296.2Z"/>
<path d="M1409.52 1277.8L1409.52 1314.6L1441.91 1296.2Z"/>
<path d="M1431.01 1278.6L1431.01 1315.4L1463.41 1297Z"/>
<path d="M1452.5 1278.6L1452.5 1315.4L1484.9 1297Z"/>
<path d="M1473.99 1278.6L1473.99 1315.4L1506.39 1297Z"/>
<path d="M1495.49 1278.6L1495.49 1315.4L1527.89 1297Z"/>
<path d="M1516.98 1278.6L1516.98 1315.4L1549.38 1297Z"/>
<path d="M1538.47 1278.6L1538.47 1315.4L1570.87 1297Z"/>
<path d="M1559.97 1278.6L1559.97 1315.4L1592.37 1297Z"/>
<path d="M1581.46 1278.6L1581.46 1315.4L1613.86 1297Z"/>
<path d="M1602.95 1278.6L1602.95 1315.4L1635.35 1297Z"/>
<path d="M1624.44 1278.6L1624.44 1315.4L1656.84 1297Z"/>
<path d="M1645.94 1278.6L1645.94 1315.4L1678.34 1297Z"/>
<path d="M1667.43 1278.6L1667.43 1315.4L1699.83 1297Z"/>
<path d="M1688.92 1278.6L1688.92 1315.4L1721.32 1297Z"/>
<path d="M1710.42 1278.6L1710.42 1315.4L1742.82 1297Z"/>
<path d="M1731.91 1278.6L1731.91 1315.4L1764.31 1297Z"/>
<path d="M1753.4 1278.6L1753.4 1315.4L1785.8 1297Z"/>
<path d="M1774.9 1278.6L1774.9 1315.4L1807.3 1297Z"/>
<path d="M1796.39 1278.6L1796.39 1315.4L1828.79 1297Z"/>
<path d="M1817.88 1278.6L1817.88 1315.4L1850.28 1297Z"/>
</g>
</g>
<g class="tick" text-anchor="end">
<text x="202.4" y="1322.7">0</text>
<text x="202.4" y="1092.31">5</text>
<text x="202.4" y="861.92">10</text>
<text x="202.4" y="631.53">15</text>
<text x="202.4" y="401.14">20</text>
<text x="202.4" y="170.75">25</text>
</g>
<g class="tick" text-anchor="middle">
<text x="227.5" y="1428.3">300</text>
<text x="406.58" y="1428.3">350</text>
<text x="585.65" y="1428.3">400</text>
<text x="764.73" y="1428.3">450</text>
<text x="943.8" y="1428.3">500</text>
<text x="1122.88" y="1428.3">550</text>
<text x="1301.95" y="1428.3">600</text>
<text x="1481.03" y="1428.3">650</text>
<text x="1660.1" y="1428.3">700</text>
<text x="1839.17" y="1428.3">750</text>
</g>
<text class="title" text-anchor="middle" x="1033.2" y="1539.5">Wavelength [nm]</text>
<text class="ytitle" text-anchor="middle" transform="translate(85.4 690.4) rotate(-90)">IPCE [%]</text>
<g fill="#000000" shape-rendering="crispEdges"><rect x="1485.4" y="156" width="24.5" height="26"/></g>
<g fill="#ff0000" shape-rendering="crispEdges"><circle cx="1497.6" cy="258.3" r="14.3"/></g>
<g fill="#0000ff" shape-rendering="crispEdges"><path d="M1479.2 360.1L1518 360.1L1498.6 328Z"/></g>
<g fill="#008080" shape-rendering="crispEdges"><path d="M1479.2 426.3L1518 426.3L1498.6 458.8Z"/></g>
<g fill="#ff00ff" shape-rendering="crispEdges"><rect x="1485.4" y="514.7" width="24.5" height="24.5"/></g>
<g fill="#808000" shape-rendering="crispEdges"><path d="M1487.2 598.9L1487.2 635.3L1519.9 617.1Z"/></g>
<g class="leg">
<text x="1595" y="189.9">0cyc</text>
<text x="1595" y="279.55">1cyc</text>
<text x="1595" y="369.2">3cyc</text>
<text x="1595" y="458.85">5cyc</text>
<text x="1595" y="548.5">10cyc</text>
<text x="1595" y="638.15">15cyc</text>
</g>
</svg>
</body></html>
